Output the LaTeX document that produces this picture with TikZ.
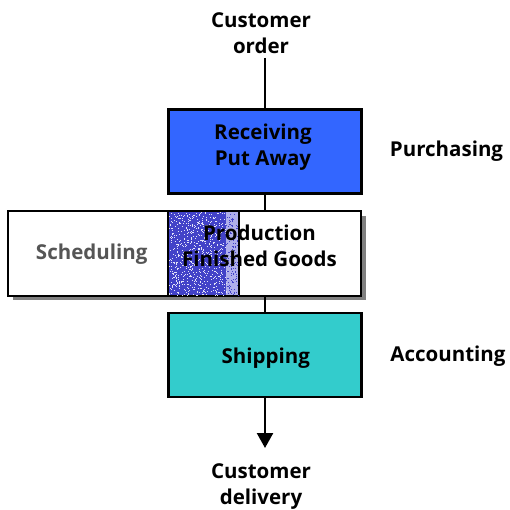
\documentclass[tikz,border=0pt]{standalone}
\usepackage{fontspec}
\setmainfont{Open Sans}
\usetikzlibrary{arrows.meta}
\definecolor{recvblue}{RGB}{51,102,255}
\definecolor{shipcyan}{RGB}{51,204,204}
\definecolor{stipdark}{RGB}{66,66,200}
\definecolor{stiplight}{RGB}{175,175,235}
\definecolor{schedgray}{RGB}{85,85,85}
\definecolor{shadowgray}{RGB}{128,128,128}
\begin{document}
\begin{tikzpicture}[x=1pt,y=-1pt,
  lbl/.style={font=\fontsize{20.5}{26}\selectfont\bfseries, align=center, inner sep=0pt, anchor=base},
  procbox/.style={draw=black, line width=2.2pt, minimum width=193pt, minimum height=84pt, inner sep=0pt},
  conn/.style={line width=2.4pt, draw=black}]
\useasboundingbox (0,0) rectangle (510,510);
% texts (multi-line nodes: base = last line)
\node[lbl] (order) at (261,53.3) {Customer\\order};
\node[lbl] (purch) at (446.5,156.7) {Purchasing};
\node[lbl] (acct) at (448,361) {Accounting};
\node[lbl] (deliv) at (261,504.5) {Customer\\delivery};
% receiving box
\node[procbox, fill=recvblue] (recv) at (265,151.5) {};
\node[lbl] (recvt) at (263,166) {Receiving\\Put Away};
% production box with shadow
\fill[shadowgray] (13,216) rectangle (366,300);
\node[draw=black, line width=2.2pt, fill=white, minimum width=353pt, minimum height=85pt, inner sep=0pt] (prod) at (184.5,253.5) {};
% stipple
\fill[stipdark] (168,212) rectangle (226,295);
\fill[stiplight] (226,212) rectangle (239,295);
\pgfmathsetseed{7}
\foreach \i in {1,...,700} {
  \pgfmathsetmacro{\xx}{168+58*rnd}
  \pgfmathsetmacro{\yy}{212+83*rnd}
  \fill[white!85!stipdark] (\xx,\yy) rectangle ++(0.9,0.9);
}
\foreach \i in {1,...,160} {
  \pgfmathsetmacro{\xx}{226+13*rnd}
  \pgfmathsetmacro{\yy}{212+83*rnd}
  \fill[stipdark] (\xx,\yy) rectangle ++(0.9,0.9);
}
\draw[line width=1.4pt] (239,212) -- (239,295);
\draw[line width=2.2pt] (168,211) -- (168,296);
\node[lbl, text=schedgray] (sched) at (91.7,259.3) {Scheduling};
\node[lbl] (prodt) at (259.5,266) {Production\\Finished Goods};
% shipping box
\node[procbox, fill=shipcyan] (ship) at (265,355) {};
\node[lbl] (shipt) at (265.8,363.3) {Shipping};
% connectors
\coordinate (ostart) at (265,58);
\coordinate (dend) at (265,448);
\draw[conn] (ostart) -- (recv.north);
\draw[conn] (recv.south) -- (recv.south |- prod.north);
\draw[conn] (ship.north |- prod.south) -- (ship.north);
\draw[conn, -{Triangle[width=16pt,length=15pt]}] (ship.south) -- (dend);
\end{tikzpicture}
\end{document}
